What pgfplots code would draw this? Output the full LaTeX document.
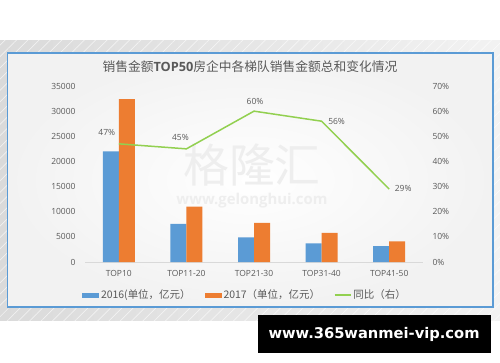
\documentclass[border=0pt]{standalone}
\usepackage{fontspec}
\usepackage{graphicx}
\usepackage{pgfplots}
\pgfplotsset{compat=1.18}
\usetikzlibrary{patterns.meta}
\setmainfont{Open Sans}
\newfontfamily\cjk{Noto Sans CJK SC}
\newfontfamily\bannerfont{DejaVu Sans}
\definecolor{cblue}{RGB}{91,155,213}
\definecolor{corange}{RGB}{237,125,49}
\definecolor{cgreen}{RGB}{146,208,80}
\definecolor{ctext}{RGB}{89,89,89}
\definecolor{caxis}{RGB}{217,217,217}
\definecolor{bgdark}{RGB}{218,218,218}
\definecolor{bglight}{RGB}{242,242,242}
\definecolor{wm}{RGB}{238,238,238}
\begin{document}
\begin{tikzpicture}[x=1bp,y=1bp]
\useasboundingbox (0,0) rectangle (500,362);
\fill[white] (0,0) rectangle (500,362);
% outer gray hatched background
\shade[left color=bgdark,right color=bglight] (0,42) rectangle (500,322);
\fill[pattern={Lines[angle=45,distance=8bp,line width=0.7bp]},pattern color=white,opacity=0.6] (0,42) rectangle (500,322);
% inner chart area
\shade[inner color=white,outer color=bglight] (7.5,55) rectangle (493,309);
\draw[cblue,line width=1.2bp] (7.5,55) rectangle (493,309);
% title
\node[text=ctext,font=\fontsize{12.8}{14}\selectfont] at (250,295) {{\cjk 销售金额}{\bfseries TOP50}{\cjk 房企中各梯队销售金额总和变化情况}};
% watermark
\node[text=wm,font=\cjk\fontsize{46}{48}\selectfont] at (252,197) {格隆汇};
\node[text=wm] at (252,161) {\resizebox{151bp}{!}{\bfseries www.gelonghui.com}};
% banner
\fill[black] (258,9) rectangle (491,47);
\node[text=white] at (374,28) {\resizebox{211bp}{!}{\bannerfont\bfseries www.365wanmei-vip.com}};

\begin{axis}[
  at={(85bp,100bp)}, anchor=south west,
  scale only axis, width=338bp, height=176bp,
  xmin=-0.5, xmax=4.5, ymin=0, ymax=35000,
  scaled y ticks=false,
  ybar=0pt, bar width=16bp,
  axis x line*=bottom, axis y line*=left,
  x axis line style={draw=caxis,line width=0.8bp},
  y axis line style={draw=none},
  major tick length=0pt,
  xtick={0,1,2,3,4},
  xticklabels={TOP10,TOP11-20,TOP21-30,TOP31-40,TOP41-50},
  ytick={0,5000,10000,15000,20000,25000,30000,35000},
  yticklabels={0,5000,10000,15000,20000,25000,30000,35000},
  xticklabel style={font=\fontsize{8.5}{10}\selectfont,text=ctext,yshift=-5bp},
  yticklabel style={font=\fontsize{8.5}{10}\selectfont,text=ctext,xshift=-6bp},
  legend columns=3,
  legend style={draw=none,fill=none,at={(0.473,-0.1875)},anchor=center,
    font=\cjk\fontsize{10.5}{12}\selectfont,text=ctext,
    /tikz/every even column/.append style={column sep=12bp}},
  legend image code/.code={\fill[#1] (0bp,-2.5bp) rectangle (17bp,2.5bp);},
]
\addplot[fill=cblue,draw=none] coordinates {(0,22000) (1,7600) (2,4900) (3,3720) (4,3150)};
\addlegendentry{2016(单位，亿元）}
\addplot[fill=corange,draw=none] coordinates {(0,32400) (1,11000) (2,7800) (3,5800) (4,4100)};
\addlegendentry{2017（单位，亿元）}
\addlegendimage{legend image code/.code={\draw[cgreen,line width=1.5bp] (0bp,0bp) -- (16bp,0bp);}}
\addlegendentry{同比（右）}
\end{axis}

\begin{axis}[
  at={(85bp,100bp)}, anchor=south west,
  scale only axis, width=338bp, height=176bp,
  xmin=-0.5, xmax=4.5, ymin=0, ymax=0.7,
  axis x line=none, axis y line*=right,
  y axis line style={draw=none},
  major tick length=0pt,
  ytick={0,0.1,0.2,0.3,0.4,0.5,0.6,0.7},
  yticklabels={0\%,10\%,20\%,30\%,40\%,50\%,60\%,70\%},
  yticklabel style={font=\fontsize{8.5}{10}\selectfont,text=ctext,xshift=6bp},
]
\addplot[cgreen,line width=1.5bp,mark=none] coordinates {(0,0.47) (1,0.45) (2,0.60) (3,0.56) (4,0.29)};
\node[font=\fontsize{8.5}{10}\selectfont,text=ctext,xshift=-12bp,yshift=11bp] at (axis cs:0,0.47) {47\%};
\node[font=\fontsize{8.5}{10}\selectfont,text=ctext,xshift=-6bp,yshift=11bp] at (axis cs:1,0.45) {45\%};
\node[font=\fontsize{8.5}{10}\selectfont,text=ctext,xshift=1bp,yshift=10bp] at (axis cs:2,0.60) {60\%};
\node[font=\fontsize{8.5}{10}\selectfont,text=ctext,xshift=15bp,yshift=0bp] at (axis cs:3,0.56) {56\%};
\node[font=\fontsize{8.5}{10}\selectfont,text=ctext,xshift=14bp,yshift=1bp] at (axis cs:4,0.29) {29\%};
\end{axis}
\end{tikzpicture}
\end{document}
